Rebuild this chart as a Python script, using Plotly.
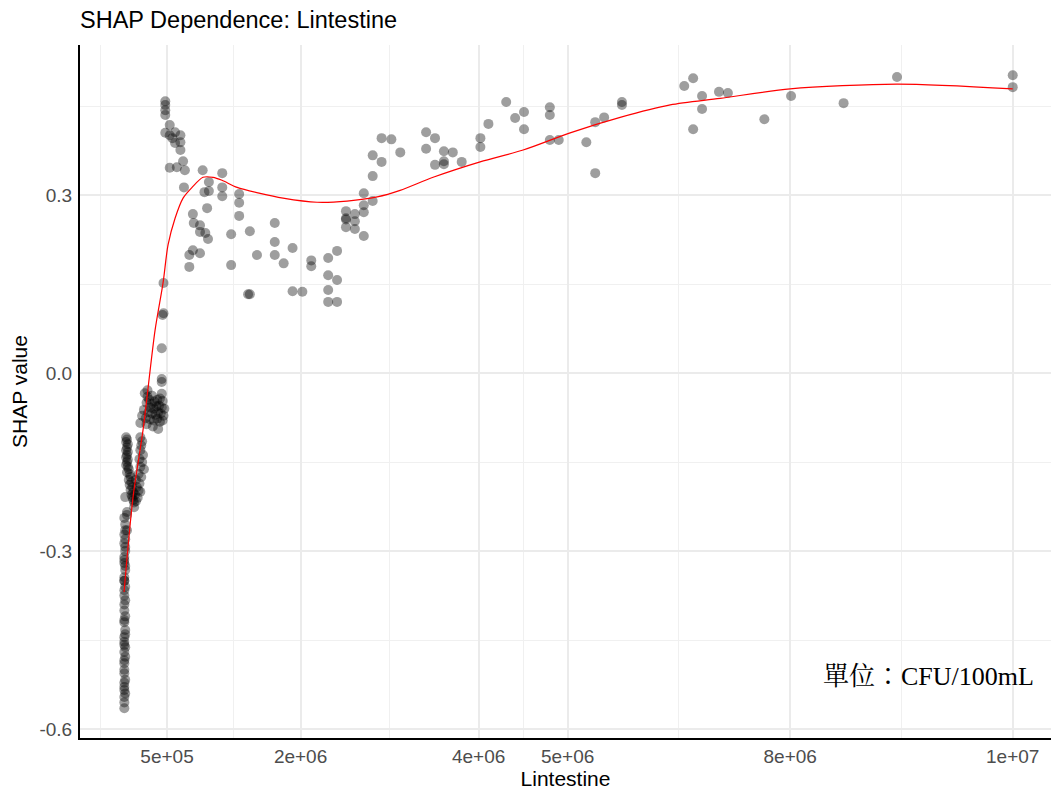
import plotly.graph_objects as go

# ---- data (x in millions of CFU/100mL, y = SHAP value) ----
col_x = [0.02,0.03,0.02,0.03,0.02,0.02,0.03,0.02,0.02,0.03,0.02,0.02,0.03,0.02,0.02,0.03,0.02,0.02,0.02,0.03,0.02,0.02,0.02,0.02,0.02,
         0.03,0.02,0.03,0.02,0.03,0.02,0.02,0.03,0.02,0.03,0.02,0.03,0.02,0.02,0.03,0.02,0.03,0.02,0.03,0.02]
col_y = [-0.244,-0.265,-0.287,-0.293,-0.310,-0.320,-0.332,-0.344,-0.366,-0.383,-0.400,-0.416,-0.433,-0.445,-0.453,-0.462,-0.484,-0.489,-0.506,-0.517,-0.529,-0.534,-0.546,-0.555,-0.565,
         -0.300,-0.315,-0.325,-0.350,-0.360,-0.375,-0.390,-0.410,-0.420,-0.440,-0.470,-0.478,-0.500,-0.522,-0.540,-0.458,-0.280,-0.272,-0.255,-0.350]

mid_x = [0.04,0.05,0.04,0.06,0.05,0.04,0.06,0.05,0.04,0.06,0.05,0.04,0.06,0.07,0.05,0.08,0.09,0.07,0.10,0.08,0.11,0.09,0.12,0.10,0.11,0.12,0.13,0.03,0.05,0.05,0.05,
         0.20,0.22,0.21,0.20,0.23,0.19,0.22,0.20,0.24,0.18,0.21,0.15,0.19,0.16,0.18,0.14,0.17,0.15,0.20,0.13]
mid_y = [-0.108,-0.112,-0.116,-0.120,-0.125,-0.130,-0.133,-0.138,-0.142,-0.146,-0.150,-0.155,-0.158,-0.162,-0.167,-0.170,-0.175,-0.180,-0.184,-0.188,-0.192,-0.197,-0.201,-0.205,-0.209,-0.214,-0.218,-0.209,-0.234,-0.239,-0.265,
         -0.108,-0.115,-0.122,-0.130,-0.138,-0.145,-0.150,-0.158,-0.162,-0.170,-0.175,-0.180,-0.186,-0.192,-0.198,-0.205,-0.210,-0.216,-0.200,-0.226]

up_x = [0.25,0.28,0.30,0.27,0.33,0.36,0.39,0.42,0.45,0.31,0.35,0.38,0.41,0.44,0.47,0.24,0.29,0.33,0.37,0.40,0.43,0.46,0.22,0.26,0.31,0.35,0.39,0.42,0.45,0.20,0.27,0.34,0.40,0.28,0.44,0.33,
        0.44,0.44,0.44,0.46,0.46,0.45]
up_y = [-0.034,-0.040,-0.045,-0.050,-0.052,-0.048,-0.045,-0.043,-0.047,-0.058,-0.060,-0.056,-0.055,-0.058,-0.060,-0.062,-0.066,-0.068,-0.070,-0.066,-0.068,-0.072,-0.072,-0.076,-0.078,-0.080,-0.077,-0.082,-0.080,-0.084,-0.086,-0.090,-0.094,-0.029,-0.035,-0.038,
        0.042,-0.010,-0.015,0.152,0.101,0.098]

peak_x = [0.48,0.48,0.48,0.48,0.53,0.48,0.53,0.59,0.65,0.56,0.59,0.65,0.65,0.68,0.53,0.61,0.70,0.69,0.90,0.97,1.12,0.97,0.92,1.12,1.12,1.31,1.31,1.31,0.95,0.79,0.80,0.87,0.87,0.93,0.96,1.22,0.79,0.75,0.87,0.75,1.22,1.41]
peak_y = [0.458,0.452,0.443,0.435,0.418,0.405,0.401,0.406,0.401,0.396,0.388,0.389,0.376,0.357,0.346,0.347,0.342,0.313,0.342,0.322,0.337,0.307,0.305,0.313,0.298,0.302,0.287,0.265,0.278,0.268,0.253,0.249,0.238,0.236,0.226,0.234,0.207,0.199,0.202,0.179,0.182,0.133]

dip_x = [1.43,1.51,1.43,1.71,1.71,1.71,1.81,1.91,1.91,2.02,2.12,2.12,2.31,2.41,2.31,2.41,2.31,2.31,2.41,2.51,2.51,2.51,2.51,2.61,2.61,2.61,2.71,2.71,2.71,2.71,2.81,2.81,2.81,2.91,2.91,3.02,3.12,
         3.41,3.51,3.41,3.61,3.71,3.51,3.61,3.61,3.81]
dip_y = [0.239,0.199,0.133,0.253,0.221,0.199,0.185,0.211,0.138,0.137,0.190,0.180,0.194,0.206,0.165,0.157,0.140,0.120,0.120,0.273,0.261,0.259,0.246,0.268,0.256,0.243,0.303,0.283,0.271,0.231,0.290,0.332,0.367,0.356,0.396,0.394,0.372,
         0.406,0.396,0.378,0.374,0.372,0.351,0.357,0.352,0.356]

high_x = [4.31,4.11,4.02,4.02,4.41,4.51,4.51,4.80,4.80,4.80,4.90,5.21,5.31,5.41,5.31,5.61,5.61,
          6.31,6.41,6.51,6.51,6.41,6.70,6.80,7.21,7.51,8.10,8.70,10.0,10.0]
high_y = [0.457,0.420,0.396,0.381,0.430,0.440,0.411,0.448,0.435,0.393,0.393,0.389,0.423,0.431,0.337,0.457,0.452,
          0.484,0.497,0.467,0.445,0.411,0.474,0.472,0.428,0.467,0.455,0.499,0.502,0.482]

# smooth (loess) curve
fit_x = [0.017,0.118,0.230,0.365,0.455,0.511,0.590,0.680,0.781,0.904,1.017,1.117,1.287,1.545,1.803,2.185,2.522,2.860,3.118,3.489,4.017,4.500,5.028,5.590,6.152,6.713,7.500,8.702,10.0]
fit_y = [-0.369,-0.209,-0.096,0.072,0.152,0.216,0.261,0.295,0.313,0.330,0.330,0.325,0.313,0.303,0.295,0.288,0.290,0.297,0.308,0.330,0.356,0.376,0.405,0.431,0.452,0.463,0.479,0.487,0.479]

x_ticks = [5e5, 2e6, 4e6, 5e6, 7.5e6, 1e7]
x_tick_labels = ["5e+05", "2e+06", "4e+06", "5e+06", "8e+06", "1e+07"]
y_ticks = [0.3, 0.0, -0.3, -0.6]
y_tick_labels = ["0.3", "0.0", "-0.3", "-0.6"]

M = 1e6
pts_x = [v * M for v in col_x + mid_x + up_x + peak_x + dip_x + high_x]
pts_y = col_y + mid_y + up_y + peak_y + dip_y + high_y

fig = go.Figure()
fig.add_trace(go.Scatter(
    x=pts_x, y=pts_y, mode="markers",
    marker=dict(size=10, color="rgba(0,0,0,0.38)", line=dict(width=0)),
    showlegend=False, hoverinfo="skip"))
fig.add_trace(go.Scatter(
    x=[v * M for v in fit_x], y=fit_y, mode="lines",
    line=dict(color="#FF0000", width=1.2, shape="spline", smoothing=0.8),
    showlegend=False, hoverinfo="skip"))

grid = "#EBEBEB"
fig.update_layout(
    width=1051, height=790,
    margin=dict(l=80, r=0, t=45, b=52, autoexpand=False),
    paper_bgcolor="white", plot_bgcolor="white",
    font=dict(family="Liberation Sans, Arial, sans-serif", color="black"),
    title=dict(text="SHAP Dependence: Lintestine", x=80/1051, xref="container", xanchor="left",
               y=1 - 20/790, yref="container", yanchor="middle",
               font=dict(size=23.5, color="black")),
    xaxis=dict(range=[-0.478e6, 10.43e6], tickvals=x_ticks, ticktext=x_tick_labels,
               automargin=False,
               showgrid=True, gridcolor=grid, gridwidth=1.6,
               minor=dict(tickvals=[-0.25e6, 1.25e6, 3e6, 4.5e6, 6.25e6, 8.75e6],
                          showgrid=True, gridcolor="#F0F0F0", gridwidth=1),
               showline=True, linecolor="black", linewidth=2, zeroline=False,
               ticks="", ticklen=0, ticklabelstandoff=0,
               tickfont=dict(size=19, color="#4D4D4D"),
               title=dict(text="Lintestine", font=dict(size=21, color="black"), standoff=2)),
    yaxis=dict(range=[-0.615, 0.553], tickvals=y_ticks, ticktext=y_tick_labels,
               automargin=False,
               showgrid=True, gridcolor=grid, gridwidth=1.6,
               minor=dict(tickvals=[0.45, 0.15, -0.15, -0.45],
                          showgrid=True, gridcolor="#F0F0F0", gridwidth=1),
               showline=True, linecolor="black", linewidth=2, zeroline=False,
               ticks="", ticklen=0, ticklabelstandoff=2,
               tickfont=dict(size=19, color="#4D4D4D"),
               title=dict(text="SHAP value", font=dict(size=21, color="black"), standoff=6)),
    annotations=[dict(text="單位：CFU/100mL", xref="paper", yref="paper",
                      x=(1036 - 80) / 971, y=(738 - 676) / 693,
                      xanchor="right", yanchor="middle", showarrow=False,
                      font=dict(family="Liberation Serif, Noto Serif CJK TC, Noto Sans CJK TC, serif",
                                size=26, color="black"))],
)

fig.write_html("out.html", config={"displayModeBar": False},
               post_script="document.body.style.margin='0';document.body.style.overflow='hidden';")
